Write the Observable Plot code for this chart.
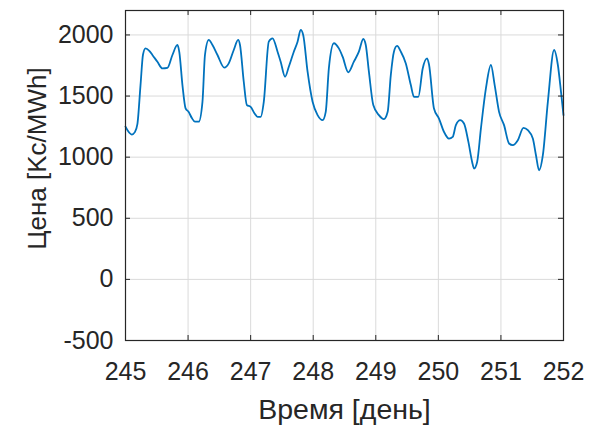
<!DOCTYPE html>
<html>
<head>
<meta charset="utf-8">
<script src="https://cdn.jsdelivr.net/npm/d3@7"></script>
<script src="https://cdn.jsdelivr.net/npm/@observablehq/plot@0.6"></script>
<style>
  html, body { margin: 0; padding: 0; background: #fff; }
</style>
</head>
<body>
<div id="chart"></div>
<script>
const days = [
  245.00, 245.06, 245.10, 245.15, 245.19, 245.24, 245.28, 245.32, 245.38, 245.43,
  245.51, 245.59, 245.67, 245.75, 245.83, 245.86, 245.91, 245.96, 246.01, 246.06,
  246.11, 246.17, 246.23, 246.27, 246.33, 246.39, 246.47, 246.58, 246.65, 246.73,
  246.80, 246.83, 246.89, 246.94, 247.00, 247.06, 247.11, 247.16, 247.21, 247.29,
  247.35, 247.43, 247.48, 247.55, 247.61, 247.69, 247.75, 247.80, 247.84, 247.91,
  247.99, 248.07, 248.15, 248.20, 248.25, 248.33, 248.41, 248.47, 248.56, 248.65,
  248.73, 248.80, 248.84, 248.89, 248.96, 249.05, 249.13, 249.19, 249.24, 249.29,
  249.34, 249.40, 249.48, 249.56, 249.61, 249.68, 249.75, 249.82, 249.85, 249.93,
  250.01, 250.09, 250.17, 250.23, 250.28, 250.35, 250.41, 250.48, 250.54, 250.57,
  250.62, 250.68, 250.76, 250.84, 250.90, 250.97, 251.05, 251.13, 251.19, 251.27,
  251.36, 251.43, 251.51, 251.56, 251.61, 251.67, 251.75, 251.85, 251.91, 251.96,
  252.00
];
const prices = [
  1250, 1200, 1185, 1205, 1270, 1590, 1840, 1890, 1870, 1836,
  1780, 1726, 1730, 1836, 1918, 1860, 1590, 1400, 1370, 1320,
  1290, 1290, 1453, 1836, 1959, 1918, 1836, 1732, 1767, 1877,
  1959, 1918, 1617, 1426, 1412, 1360, 1330, 1330, 1453, 1945,
  1972, 1863, 1781, 1658, 1740, 1863, 1945, 2041, 2000, 1699,
  1453, 1344, 1303, 1371, 1726, 1932, 1890, 1822, 1694, 1781,
  1863, 1967, 1918, 1699, 1426, 1344, 1311, 1371, 1672, 1863,
  1910, 1863, 1767, 1590, 1494, 1494, 1726, 1808, 1760, 1398,
  1316, 1207, 1152, 1166, 1262, 1303, 1275, 1125, 961, 907,
  961, 1234, 1562, 1754, 1590, 1371, 1262, 1112, 1098, 1139,
  1240, 1221, 1152, 1016, 893, 1016, 1453, 1877, 1754, 1535,
  1344
];
const xTicks = [245, 246, 247, 248, 249, 250, 251, 252];
const yTicks = [-500, 0, 500, 1000, 1500, 2000];
const xLabel = "Время [день]";
const yLabel = "Цена [Kc/MWh]";

const data = days.map((d, i) => ({day: d, price: prices[i]}));

const W = 598, H = 425;
const mL = 125, mR = 35, mT = 10, mB = 85;
const frameW = W - mL - mR, frameH = H - mT - mB;
const tickLen = 5;
const ink = "#262626";

const chart = Plot.plot({
  width: W,
  height: H,
  marginLeft: mL,
  marginRight: mR,
  marginTop: mT,
  marginBottom: mB,
  style: {fontFamily: "'Liberation Sans', Arial, Helvetica, sans-serif", fontSize: "25px", color: ink, background: "#fff"},
  x: {domain: [245, 252], ticks: xTicks, label: null},
  y: {domain: [-500, 2200], ticks: yTicks, label: null},
  marks: [
    Plot.gridX(xTicks, {stroke: "#dadada", strokeOpacity: 1, strokeWidth: 1}),
    Plot.gridY(yTicks, {stroke: "#dadada", strokeOpacity: 1, strokeWidth: 1}),
    Plot.line(data, {x: "day", y: "price", stroke: "#0072BD", strokeWidth: 1.8, curve: "monotone-x"}),
    // inward ticks on all four sides
    Plot.tickX(xTicks, {x: d => d, stroke: ink, insetTop: frameH - tickLen}),
    Plot.tickX(xTicks, {x: d => d, stroke: ink, insetBottom: frameH - tickLen}),
    Plot.tickY(yTicks, {y: d => d, stroke: ink, insetRight: frameW - tickLen}),
    Plot.tickY(yTicks, {y: d => d, stroke: ink, insetLeft: frameW - tickLen}),
    Plot.frame({stroke: ink, strokeWidth: 1.2}),
    Plot.axisX(xTicks, {tickSize: 0, tickPadding: 22, fill: ink, fontSize: 25, label: null, tickFormat: d => String(d)}),
    Plot.axisY(yTicks, {tickSize: 0, tickPadding: 12, fill: ink, fontSize: 25, label: null, tickFormat: d => String(d)}),
    Plot.text([xLabel], {text: d => d, frameAnchor: "bottom", dy: 69, fontSize: 28.5, fill: ink, textAnchor: "middle", lineAnchor: "middle"}),
    Plot.text([yLabel], {text: d => d, frameAnchor: "left", dx: -88, dy: -17, rotate: -90, fontSize: 26, fill: ink, textAnchor: "middle", lineAnchor: "middle"})
  ]
});
document.getElementById("chart").appendChild(chart);
</script>
</body>
</html>
